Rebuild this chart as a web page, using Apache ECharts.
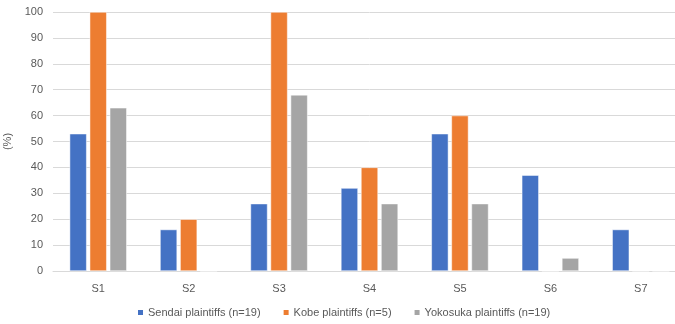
<!DOCTYPE html>
<html>
<head>
<meta charset="utf-8">
<script src="https://cdn.jsdelivr.net/npm/echarts@6/dist/echarts.min.js"></script>
<style>
  html, body { margin: 0; padding: 0; background: #ffffff; overflow: hidden; }
  /* the plot runs slightly past the right edge of the 675px view */
  #chart { width: 690px; height: 324px; }
</style>
</head>
<body>
<div id="chart"></div>
<script>
// Categories and per-group percentages
const categories = ['S1', 'S2', 'S3', 'S4', 'S5', 'S6', 'S7'];
const sendai = [53, 16, 26, 32, 53, 37, 16];
const kobe = [100, 20, 100, 40, 60, 0, 0];
const yokosuka = [63, 0, 68, 26, 26, 5, 0];
const seriesNames = ['Sendai plaintiffs (n=19)', 'Kobe plaintiffs (n=5)', 'Yokosuka plaintiffs (n=19)'];
const yTicks = { min: 0, max: 100, interval: 10 };

const colors = ['#4472C4', '#ED7D31', '#A5A5A5'];
const textColor = '#595959';
const font = 'Liberation Sans';

const chart = echarts.init(document.getElementById('chart'), null, { renderer: 'canvas' });

function barSeries(name, data, color) {
  return {
    name: name,
    type: 'bar',
    data: data,
    barWidth: 17,
    barGap: '18%',
    itemStyle: { color: color, borderColor: '#ffffff', borderWidth: 0.5 },
    emphasis: { disabled: true }
  };
}

chart.setOption({
  animation: false,
  color: colors,
  textStyle: { fontFamily: font },
  grid: {
    left: 53, top: 12, width: 633, bottom: 53,
    containLabel: false,
    outerBoundsMode: 'none'
  },
  legend: {
    bottom: 1,
    left: 131,
    itemWidth: 7,
    itemHeight: 7,
    itemGap: 21,
    icon: 'rect',
    textStyle: { color: textColor, fontSize: 11, fontFamily: font, padding: [0, 0, 0, -1] },
    data: seriesNames
  },
  xAxis: {
    type: 'category',
    data: categories,
    axisLine: { lineStyle: { color: '#D9D9D9', width: 1 } },
    axisTick: { show: false },
    axisLabel: { color: textColor, fontSize: 11, margin: 12 }
  },
  yAxis: {
    type: 'value',
    min: yTicks.min,
    max: yTicks.max,
    interval: yTicks.interval,
    name: '(%)',
    nameLocation: 'middle',
    nameRotate: 90,
    nameGap: 34,
    nameTextStyle: { color: textColor, fontSize: 11 },
    axisLine: { show: false },
    axisTick: { show: false },
    axisLabel: { color: textColor, fontSize: 11, margin: 10 },
    splitLine: { lineStyle: { color: '#D9D9D9', width: 1 } }
  },
  series: [
    barSeries(seriesNames[0], sendai, colors[0]),
    barSeries(seriesNames[1], kobe, colors[1]),
    barSeries(seriesNames[2], yokosuka, colors[2])
  ]
});
</script>
</body>
</html>
